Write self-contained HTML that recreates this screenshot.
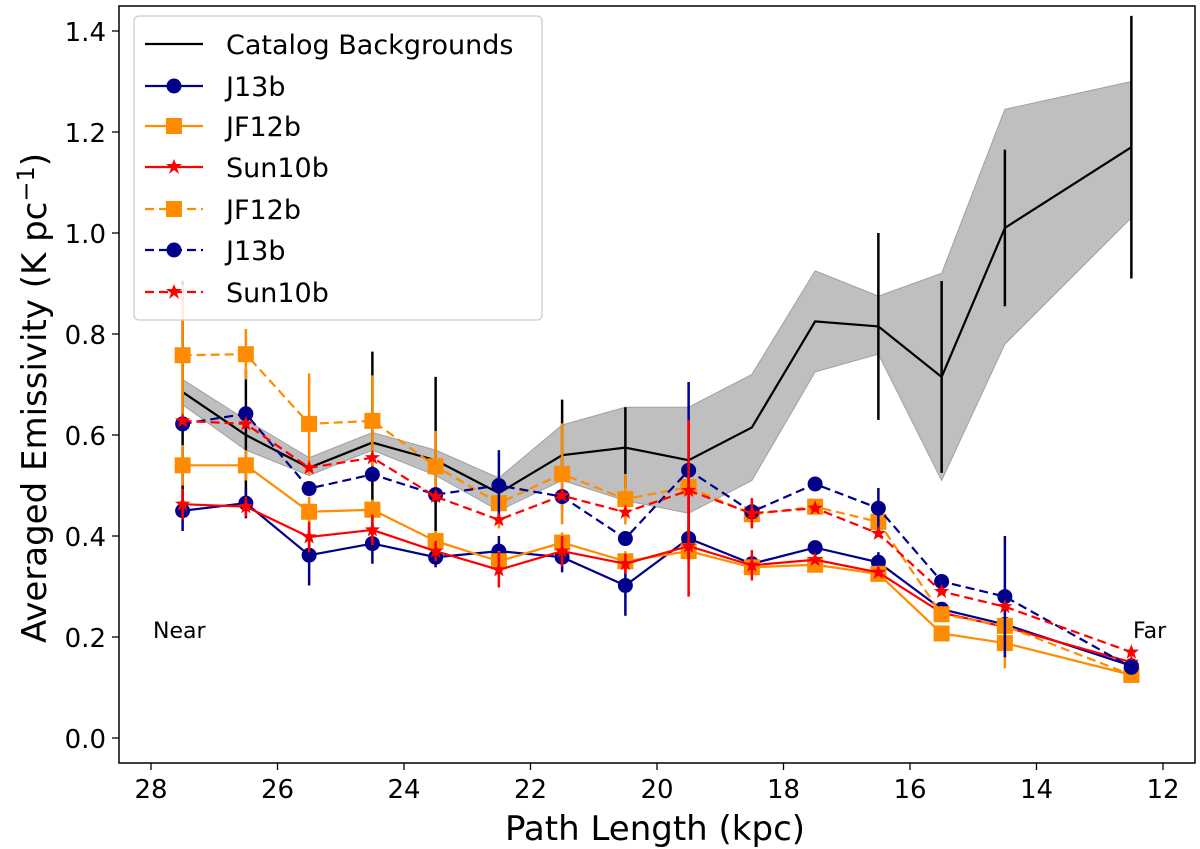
<!DOCTYPE html>
<html><head><meta charset="utf-8"><style>
body{margin:0;background:#fff;}
svg{display:block;font-family:"DejaVu Sans","Liberation Sans",sans-serif;}
</style></head><body>
<svg id="chart" width="1200" height="849" xmlns="http://www.w3.org/2000/svg"></svg>
<script>
const xs=[27.5,26.5,25.5,24.5,23.5,22.5,21.5,20.5,19.5,18.5,17.5,16.5,15.5,14.5,12.5];
const catVals=[0.685,0.60,0.535,0.585,0.55,0.485,0.56,0.575,0.55,0.615,0.825,0.815,0.715,1.01,1.17];
const catLo=[0.66,0.57,0.52,0.57,0.52,0.45,0.51,0.47,0.445,0.51,0.725,0.76,0.51,0.78,1.03];
const catHi=[0.71,0.63,0.555,0.605,0.57,0.515,0.62,0.655,0.655,0.72,0.925,0.875,0.92,1.245,1.30];
const catErr=[0.22,0.13,0,0.18,0.165,0,0.11,0.08,0,0,0,0.185,0.19,0.155,0.26];
const j13Solid=[0.45,0.465,0.362,0.385,0.358,0.37,0.358,0.302,0.395,0.345,0.377,0.348,0.255,0.225,0.143];
const j13SolidErr=[0.04,0.03,0.06,0.04,0.02,0.03,0.03,0.06,0.03,0,0,0.02,0,0,0];
const jf12Solid=[0.54,0.54,0.448,0.452,0.39,0.35,0.387,0.35,0.37,0.338,0.343,0.325,0.207,0.188,0.125];
const jf12SolidErr=[0.04,0.03,0.03,0.02,0.02,0.02,0.02,0.02,0.02,0,0,0,0,0.05,0];
const sunSolid=[0.463,0.458,0.398,0.412,0.37,0.333,0.37,0.345,0.38,0.342,0.353,0.328,0.248,0.22,0.15];
const sunSolidErr=[0.03,0.02,0.03,0.03,0.02,0.035,0.03,0.02,0.1,0.03,0,0,0,0,0];
const jf12Dash=[0.758,0.76,0.622,0.628,0.538,0.465,0.523,0.473,0.497,0.443,0.458,0.428,0.245,0.222,0.125];
const jf12DashErr=[0.14,0.05,0.1,0.09,0.07,0.05,0.1,0.05,0.05,0.02,0,0.03,0,0.03,0];
const j13Dash=[0.622,0.642,0.494,0.522,0.482,0.50,0.478,0.395,0.53,0.448,0.503,0.455,0.31,0.28,0.14];
const j13DashErr=[0,0,0,0,0,0.07,0,0,0.175,0,0,0.04,0,0.12,0];
const sunDash=[0.628,0.622,0.535,0.555,0.478,0.432,0.48,0.447,0.49,0.445,0.455,0.405,0.29,0.26,0.17];
const sunDashErr=[0,0,0,0,0,0,0,0,0.14,0.03,0,0,0,0,0];
const xTicks=[28,26,24,22,20,18,16,14,12];
const yTicks=[0.0,0.2,0.4,0.6,0.8,1.0,1.2,1.4];

const NS="http://www.w3.org/2000/svg";
const svg=document.getElementById('chart');
const L=119,R=1195,T=6,B=763;
const X=v=>151+(28-v)*63.25;
const Y=v=>738-v*505;
function el(t,a,p){const e=document.createElementNS(NS,t);for(const k in a)e.setAttribute(k,a[k]);(p||svg).appendChild(e);return e;}

let pts=xs.map((x,i)=>X(x)+','+Y(catHi[i])).concat(xs.slice().reverse().map((x,j)=>{const i=xs.length-1-j;return X(x)+','+Y(catLo[i]);}));
const band=el('polygon',{points:pts.join(' '),fill:'#bfbfbf',stroke:'#a0a0a0','stroke-width':1});



function series(name,vals,errs,color,dash,marker){
  const g=el('g',{});
  
  
  errs.forEach((e,i)=>{if(e>0)el('line',{x1:X(xs[i]),x2:X(xs[i]),y1:Y(vals[i]-e),y2:Y(vals[i]+e),stroke:color,'stroke-width':2.5},g);});
  el('polyline',{points:vals.map((v,i)=>X(xs[i])+','+Y(v)).join(' '),fill:'none',stroke:color,'stroke-width':2.2,'stroke-dasharray':dash||'none'},g);
  vals.forEach((v,i)=>drawMarker(marker,X(xs[i]),Y(v),color,g));
}
function drawMarker(m,x,y,c,g){
  if(m==='circle')el('circle',{cx:x,cy:y,r:7.5,fill:c},g);
  else if(m==='square')el('rect',{x:x-8,y:y-8,width:16,height:16,fill:c},g);
  else if(m==='star'){let p=[];for(let k=0;k<10;k++){const r=k%2?3.3:8,a=-Math.PI/2+k*Math.PI/5;p.push((x+r*Math.cos(a)).toFixed(1)+','+(y+r*Math.sin(a)).toFixed(1));}el('polygon',{points:p.join(' '),fill:c},g);}
}
series('catalog-backgrounds-line',catVals,catErr,'#000','',null);
series('j13b-solid-series',j13Solid,j13SolidErr,'#00008b','','circle');
series('jf12b-solid-series',jf12Solid,jf12SolidErr,'#ff8c00','','square');
series('sun10b-solid-series',sunSolid,sunSolidErr,'#ff0000','','star');
series('jf12b-dashed-series',jf12Dash,jf12DashErr,'#ff8c00','9,5','square');
series('j13b-dashed-series',j13Dash,j13DashErr,'#00008b','9,5','circle');
series('sun10b-dashed-series',sunDash,sunDashErr,'#ff0000','9,5','star');

const fr=el('rect',{x:L,y:T,width:R-L,height:B-T,fill:'none',stroke:'#000','stroke-width':1.5});


xTicks.forEach(t=>{el('line',{x1:X(t),x2:X(t),y1:B,y2:B+7,stroke:'#000','stroke-width':1.3});
  const tx=el('text',{x:X(t),y:B+35,'text-anchor':'middle','font-size':26});tx.textContent=t;
  });
yTicks.forEach(t=>{el('line',{x1:L-7,x2:L,y1:Y(t),y2:Y(t),stroke:'#000','stroke-width':1.3});
  const tx=el('text',{x:L-13,y:Y(t)+10,'text-anchor':'end','font-size':26});tx.textContent=t.toFixed(1);
  });
</script>
<svg width="1200" height="849" style="position:absolute;left:0;top:0" xmlns="http://www.w3.org/2000/svg" font-family="DejaVu Sans, Liberation Sans, sans-serif">
<text x="655" y="840" text-anchor="middle" font-size="34">Path Length (kpc)</text>
<text transform="translate(46,398) rotate(-90)" text-anchor="middle" font-size="34">Averaged Emissivity (K pc<tspan dy="-12" font-size="24">−1</tspan><tspan dy="12">)</tspan></text>
<text x="153" y="638" font-size="22">Near</text>
<text x="1133" y="638" font-size="22">Far</text>
<g>
<rect x="134" y="16" width="408" height="304" rx="5" fill="#fff" fill-opacity="0.85" stroke="#ccc" stroke-width="1.3"/>
<g font-size="27">
<line x1="145" y1="44" x2="203" y2="44" stroke="#000" stroke-width="2.2"/><text x="226" y="54">Catalog Backgrounds</text>
<line x1="145" y1="86" x2="203" y2="86" stroke="#00008b" stroke-width="2.2"/><circle cx="174" cy="86" r="7.5" fill="#00008b"/><text x="226" y="96">J13b</text>
<line x1="145" y1="126" x2="203" y2="126" stroke="#ff8c00" stroke-width="2.2"/><rect x="166" y="118" width="16" height="16" fill="#ff8c00"/><text x="226" y="136">JF12b</text>
<line x1="145" y1="167" x2="203" y2="167" stroke="#f00" stroke-width="2.2"/><polygon points="174,159 176,164 182,164 177,168 179,174 174,170 169,174 171,168 166,164 172,164" fill="#f00"/><text x="226" y="177">Sun10b</text>
<line x1="145" y1="209" x2="203" y2="209" stroke="#ff8c00" stroke-width="2.2" stroke-dasharray="9,5"/><rect x="166" y="201" width="16" height="16" fill="#ff8c00"/><text x="226" y="219">JF12b</text>
<line x1="145" y1="250" x2="203" y2="250" stroke="#00008b" stroke-width="2.2" stroke-dasharray="9,5"/><circle cx="174" cy="250" r="7.5" fill="#00008b"/><text x="226" y="260">J13b</text>
<line x1="145" y1="292" x2="203" y2="292" stroke="#f00" stroke-width="2.2" stroke-dasharray="9,5"/><polygon points="174,284 176,289 182,289 177,293 179,299 174,295 169,299 171,293 166,289 172,289" fill="#f00"/><text x="226" y="302">Sun10b</text>
</g></g>
</svg>
</body></html>
